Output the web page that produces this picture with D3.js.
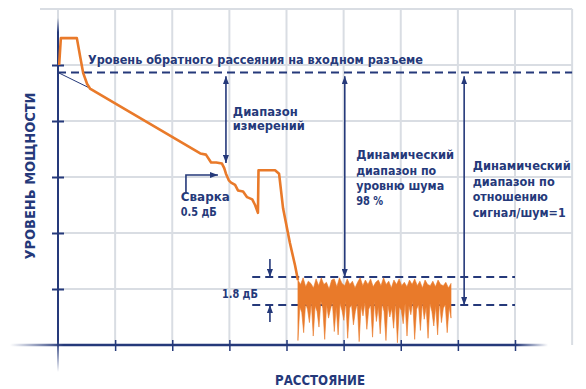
<!DOCTYPE html>
<html>
<head>
<meta charset="utf-8">
<script src="https://cdn.jsdelivr.net/npm/d3@7"></script>
<style>
  body { margin: 0; background: #fff; }
  svg text { font-family: "DejaVu Sans", "Open Sans", sans-serif; font-weight: bold; fill: #25397a; }
</style>
</head>
<body>
<script>
// reflectogram trace: distance (grid units) / level (dB)
const traceX  = [0.02, 0.05, 0.33, 0.39, 0.44, 0.51, 0.56, 2.49, 2.59, 2.68, 2.77, 2.87, 2.91, 2.94, 2.99, 3.03, 3.10, 3.15, 3.24, 3.31, 3.40, 3.45, 3.50, 3.51, 3.80, 3.87, 3.94, 4.06, 4.15, 4.20];
const traceDb = [25.0, 27.4, 27.4, 25.7, 24.3, 23.3, 22.9, 17.1, 17.0, 16.3, 16.3, 16.2, 15.8, 15.3, 14.7, 14.5, 14.3, 13.8, 13.7, 13.2, 13.0, 12.5, 11.8, 15.6, 15.6, 15.3, 12.2, 9.1, 7.1, 5.8];

// noise floor, from x=4.20 to x=6.88
const noiseStart = 4.20, noiseEnd = 6.88;
const noiseTop = [5.8, 5.4, 6.0, 5.2, 5.7, 5.5, 5.1, 5.9, 5.3, 6.0, 5.4, 5.6, 5.0, 5.8, 5.9, 5.2, 6.0, 5.5, 5.3, 5.9, 5.4, 5.7, 5.1, 5.6, 6.0, 5.3, 5.8, 5.4, 5.9, 5.2, 5.6, 5.8, 5.3, 6.0, 5.4, 5.7, 5.1, 5.8, 5.4, 5.9, 5.3, 5.6, 5.2, 5.8, 5.4, 5.9, 5.3, 5.7, 5.1, 5.8, 5.4, 5.3, 5.7, 5.2, 5.8, 5.4, 5.3, 5.6, 5.1, 5.5];
const noiseBottom = [0.4, 3.4, 2.9, 1.1, 3.7, 3.2, 2.0, 3.8, 0.8, 3.5, 3.0, 1.6, 3.9, 3.3, 0.5, 3.6, 2.4, 3.2, 3.8, 1.2, 3.4, 0.9, 3.7, 3.1, 2.2, 3.9, 0.6, 3.3, 3.6, 1.8, 3.0, 3.7, 0.3, 3.5, 2.6, 3.8, 1.4, 3.2, 3.6, 0.7, 3.9, 2.1, 3.4, 1.0, 3.7, 3.0, 0.4, 3.6, 2.5, 3.3, 1.5, 3.8, 0.2, 3.4, 3.1, 1.9, 3.7, 0.8, 3.5, 2.7, 3.9, 0.5, 3.2, 3.6, 1.3, 3.8, 2.3, 3.4, 0.6, 3.7, 3.0, 1.7, 3.5, 0.9, 3.9, 2.0, 3.3, 3.6, 1.1, 3.4, 2.4];

// levels
const backscatterDb = 24.33;
const noiseHiDb = 6.07, noiseLoDb = 3.57;
const weldDb = 16.25;

const xTicks = [1, 2, 3, 4, 5, 6, 7, 8];
const yTicks = [5, 10, 15, 20, 25];

const navy = '#25397a', orange = '#e97a2a', grid = '#d9dde3';

const svg = d3.select('body').append('svg').attr('width', 586).attr('height', 389);
const x = d3.scaleLinear().domain([0, 8]).range([58, 515]);
const y = d3.scaleLinear().domain([0, 30]).range([345, 9]);

const defs = svg.append('defs');
defs.append('marker').attr('id', 'arr')
  .attr('viewBox', '0 0 8 6').attr('refX', 8).attr('refY', 3)
  .attr('markerWidth', 8).attr('markerHeight', 6).attr('markerUnits', 'userSpaceOnUse')
  .attr('orient', 'auto-start-reverse')
  .append('path').attr('d', 'M0,0L8,3L0,6Z').attr('fill', navy);

const gx = defs.append('linearGradient').attr('id', 'fadex').attr('x1', '0%').attr('x2', '100%');
gx.append('stop').attr('offset', '0%').attr('stop-color', navy).attr('stop-opacity', 0);
gx.append('stop').attr('offset', '10%').attr('stop-color', navy).attr('stop-opacity', 1);
gx.append('stop').attr('offset', '94%').attr('stop-color', navy).attr('stop-opacity', 1);
gx.append('stop').attr('offset', '100%').attr('stop-color', navy).attr('stop-opacity', 0);
const gy = defs.append('linearGradient').attr('id', 'fadey').attr('x1', '0%').attr('x2', '0%').attr('y1', '0%').attr('y2', '100%');
gy.append('stop').attr('offset', '0%').attr('stop-color', navy).attr('stop-opacity', 0);
gy.append('stop').attr('offset', '4%').attr('stop-color', navy).attr('stop-opacity', 1);
gy.append('stop').attr('offset', '91%').attr('stop-color', navy).attr('stop-opacity', 1);
gy.append('stop').attr('offset', '100%').attr('stop-color', navy).attr('stop-opacity', 0);

// grid
const gGrid = svg.append('g').attr('stroke', grid).attr('stroke-width', 2);
gGrid.selectAll('.v').data([0].concat(xTicks, [9])).join('line')
  .attr('x1', d => x(d)).attr('x2', d => x(d))
  .attr('y1', y(30)).attr('y2', y(0));
gGrid.selectAll('.h').data(yTicks.concat([30])).join('line')
  .attr('x1', d => d === 30 ? 40 : x(0)).attr('x2', x(9))
  .attr('y1', d => y(d)).attr('y2', d => y(d));

// axes
svg.append('line').attr('x1', 10).attr('x2', 548).attr('y1', y(0)).attr('y2', y(0) + 0.01)
  .attr('stroke', 'url(#fadex)').attr('stroke-width', 2.5);
svg.append('line').attr('x1', x(0)).attr('x2', x(0) + 0.01).attr('y1', 18).attr('y2', 372)
  .attr('stroke', 'url(#fadey)').attr('stroke-width', 2);

const yAxis = svg.append('g').attr('transform', `translate(${x(0)},0)`)
  .call(d3.axisLeft(y).tickValues(yTicks).tickSize(6).tickFormat(''));
yAxis.select('.domain').remove();
yAxis.selectAll('line').attr('x1', 6).attr('stroke', navy).attr('stroke-width', 2);

const xAxis = svg.append('g').attr('transform', `translate(0,${y(0)})`)
  .call(d3.axisBottom(x).tickValues(xTicks).tickSize(6).tickFormat(''));
xAxis.select('.domain').remove();
xAxis.selectAll('line').attr('y1', -5).attr('stroke', navy).attr('stroke-width', 1.5);

// dashed levels
const dash = svg.append('g').attr('stroke', navy).attr('stroke-width', 2).attr('stroke-dasharray', '8,5');
dash.append('line').attr('x1', x(0)).attr('x2', x(9)).attr('y1', y(backscatterDb)).attr('y2', y(backscatterDb));
[noiseHiDb, noiseLoDb].forEach(v => {
  dash.append('line').attr('x1', x(3.40)).attr('x2', x(8)).attr('y1', y(v)).attr('y2', y(v));
});

// extrapolation of backscatter
svg.append('line').attr('x1', x(0)).attr('y1', y(backscatterDb)).attr('x2', x(0.53)).attr('y2', y(23.0))
  .attr('stroke', navy).attr('stroke-width', 1);

// noise
const nT = noiseTop.map((v, i) => [noiseStart + i * (noiseEnd - noiseStart) / (noiseTop.length - 1), v]);
const nB = noiseBottom.map((v, i) => [noiseStart + i * (noiseEnd - noiseStart) / (noiseBottom.length - 1), v]);
const poly = nT.concat(nB.slice().reverse()).map(d => [x(d[0]), y(d[1])]);
svg.append('path').attr('d', 'M' + poly.join('L') + 'Z')
  .attr('fill', orange).attr('stroke', orange).attr('stroke-width', 0.6).attr('stroke-linejoin', 'round');

// trace
const line = d3.line().x(d => x(d[0])).y(d => y(d[1]));
svg.append('path').attr('d', line(traceX.map((d, i) => [d, traceDb[i]])))
  .attr('fill', 'none').attr('stroke', orange).attr('stroke-width', 2.6).attr('stroke-linejoin', 'round');

// arrows
const arrows = svg.append('g').attr('stroke', navy).attr('stroke-width', 1.6).attr('fill', 'none');
const vArrow = (xv, y1, y2, both) => arrows.append('line')
  .attr('x1', x(xv)).attr('x2', x(xv)).attr('y1', y(y1)).attr('y2', y(y2))
  .attr('marker-end', 'url(#arr)').attr('marker-start', both ? 'url(#arr)' : null);
vArrow(2.94, 24.0, weldDb, true);
vArrow(5.02, 24.0, noiseHiDb, true);
vArrow(7.11, 24.0, noiseLoDb, true);
vArrow(3.71, 7.68, noiseHiDb, false);
vArrow(3.71, 2.05, noiseLoDb, false);
arrows.append('path')
  .attr('d', `M${x(2.24)},${y(13.57)}V${y(15.18)}H${x(2.80)}`)
  .attr('marker-end', 'url(#arr)');

// labels
const label = (xv, yv, txt, size, len, anchor) => svg.append('text')
  .attr('x', x(xv)).attr('y', y(yv)).attr('font-size', size)
  .attr('text-anchor', anchor || 'start')
  .attr('textLength', len).attr('lengthAdjust', 'spacingAndGlyphs').text(txt);

label(0.525, 25.1, 'Уровень обратного рассеяния на входном разъеме', 12, 335);
label(3.06, 20.45, 'Диапазон', 11.5, 65);
label(3.06, 19.2, 'измерений', 11.5, 72);
label(5.22, 16.61, 'Динамический', 11.5, 98);
label(5.22, 15.18, 'диапазон по', 11.5, 80);
label(5.22, 13.84, 'уровню шума', 11.5, 88);
label(5.22, 12.5, '98 %', 11.5, 27);
label(7.26, 15.63, 'Динамический', 11.5, 98);
label(7.26, 14.2, 'диапазон по', 11.5, 82);
label(7.26, 12.86, 'отношению', 11.5, 75);
label(7.26, 11.43, 'сигнал/шум=1', 11.5, 93);
label(2.15, 12.86, 'Сварка', 11.5, 49);
label(2.15, 11.52, '0.5 дБ', 11.5, 36);
label(3.5, 4.2, '1.8 дБ', 11.5, 36, 'end');

svg.append('text').attr('transform', 'translate(35,176) rotate(-90)')
  .attr('text-anchor', 'middle').attr('font-size', 14)
  .attr('textLength', 167).attr('lengthAdjust', 'spacingAndGlyphs').text('УРОВЕНЬ МОЩНОСТИ');
svg.append('text').attr('x', 320).attr('y', 385)
  .attr('text-anchor', 'middle').attr('font-size', 14)
  .attr('textLength', 90).attr('lengthAdjust', 'spacingAndGlyphs').text('РАССТОЯНИЕ');
</script>
</body>
</html>
